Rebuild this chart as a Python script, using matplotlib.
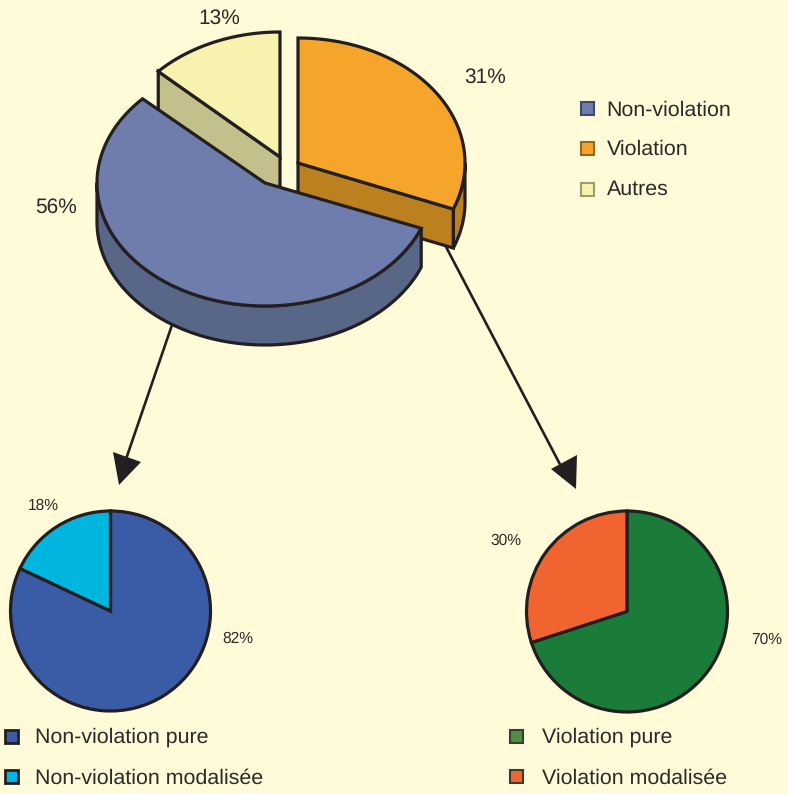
import numpy as np
import matplotlib
matplotlib.use("Agg")
import matplotlib.pyplot as plt
from matplotlib.patches import Polygon, Rectangle

plt.rcParams['font.family'] = ['Liberation Sans', 'DejaVu Sans']
plt.rcParams['text.hinting'] = 'no_hinting'

# main pie, clockwise from 12 o'clock
main_labels = ['Violation', 'Non-violation', 'Autres']
main_values = [31, 56, 13]
# legend order of the main pie
main_legend = ['Non-violation', 'Violation', 'Autres']

left_labels = ['Non-violation pure', 'Non-violation modalisée']
left_values = [82, 18]

right_labels = ['Violation pure', 'Violation modalisée']
right_values = [70, 30]

BG = '#FFFAD8'
INK = '#231F20'
TXT = '#2B2A29'
W, H = 788, 794

fig = plt.figure(figsize=(W / 100, H / 100), dpi=100, facecolor=BG)
ax = fig.add_axes([0, 0, 1, 1])


# image pixels to axes coords (y goes up in the axes)
def Y(py):
    return H - py


def arc(cx, cy, a, b, t0, t1, n=80):
    t = np.radians(np.linspace(t0, t1, n))
    return np.column_stack([cx + a * np.cos(t), Y(cy) + b * np.sin(t)])


def poly(pts, color, z, lw=2.3):
    ax.add_patch(Polygon(pts, closed=True, facecolor=color, edgecolor=INK,
                         linewidth=lw, joinstyle='miter', zorder=z))


# slice angles come from the values
ends = 90 - np.cumsum(main_values) * 3.6
starts = np.r_[90, ends[:-1]]
DEPTH = 39

# yellow slice
t0, t1 = starts[2], ends[2]
cx, cy, a, b = 280, 157, 167, 125
edge = arc(cx, cy, a, b, t0, t0, 1)[0]
centre = np.array([cx, Y(cy)])
poly([edge, centre, centre - [0, DEPTH], edge - [0, DEPTH]], '#C4C08B', 2)
poly(np.vstack([centre, arc(cx, cy, a, b, t0, t1)]), '#F7F2AE', 3)

# orange slice
t0, t1 = starts[0], ends[0]
cx, cy, a, b = 298, 163, 167, 125
edge = arc(cx, cy, a, b, t1, t1, 1)[0]
centre = np.array([cx, Y(cy)])
outer = arc(cx, cy, a, b, 0, t1)
poly(np.vstack([outer, (outer - [0, DEPTH])[::-1]]), '#BC801E', 4)
poly([centre, edge, edge - [0, DEPTH], centre - [0, DEPTH]], '#BC801E', 5)
poly(np.vstack([centre, arc(cx, cy, a, b, t0, t1)]), '#F5A52A', 6)

# arrows go under the blue slice
ax.plot([172, 125], [Y(325), Y(462)], color=INK, lw=1.9, zorder=1)
ax.plot([444, 564], [Y(243), Y(472)], color=INK, lw=1.9, zorder=1)
poly([(119, Y(485)), (113, Y(452)), (141, Y(462))], INK, 1, lw=0)
poly([(576, Y(489)), (551, Y(469)), (577, Y(455))], INK, 1, lw=0)

# blue slice
t0, t1 = starts[1], ends[1]
cx, cy, a, b = 265, 183, 168, 123
centre = np.array([cx, Y(cy)])
outer = arc(cx, cy, a, b, -180, t0)
poly(np.vstack([outer, (outer - [0, DEPTH])[::-1]]), '#586688', 7)
poly(np.vstack([centre, arc(cx, cy, a, b, t0, t1)]), '#6E7DAB', 8)

# lower pies
wp = dict(edgecolor=INK, linewidth=2.3)
ax.pie(left_values, colors=['#3A5BA5', '#00B5DE'], startangle=90, counterclock=False,
       center=(110.5, Y(611)), radius=100, wedgeprops=wp, frame=True)
ax.pie(right_values, colors=['#1A7C38', '#F1642F'], startangle=90, counterclock=False,
       center=(627, Y(611.5)), radius=100.5, wedgeprops=wp, frame=True)

# percent labels, y is the text baseline
for val, x, y in zip(main_values, [485, 56, 219], [83, 213, 24]):
    ax.text(x, Y(y), f'{val}%', fontsize=15, color=TXT, ha='center', va='baseline')
for val, x, y in zip(left_values, [238, 43], [643, 510]):
    ax.text(x, Y(y), f'{val}%', fontsize=11.2, color=TXT, ha='center', va='baseline')
for val, x, y in zip(right_values, [767, 506], [644, 545]):
    ax.text(x, Y(y), f'{val}%', fontsize=11.2, color=TXT, ha='center', va='baseline')


def legend_item(label, x0, ybox, xtxt, ytxt, fill, edge, size=13, lw=1.5):
    ax.add_patch(Rectangle((x0, Y(ybox) - size / 2), size, size, facecolor=fill,
                           edgecolor=edge, linewidth=lw, zorder=9))
    ax.text(xtxt, Y(ytxt), label, fontsize=15.4, color=TXT, ha='left', va='baseline')


legend_item(main_legend[0], 581, 108, 606, 116, '#6E7DAB', '#3F4A6B')
legend_item(main_legend[1], 581, 148, 607, 155, '#F5A52A', '#8F6A20')
legend_item(main_legend[2], 581, 189, 607, 195, '#F7F2AE', '#9E9B72')
legend_item(left_labels[0], 5, 736, 35, 743, '#3A5BA5', INK, lw=2)
legend_item(left_labels[1], 5, 776, 35, 784, '#00B5DE', INK, lw=2)
legend_item(right_labels[0], 510, 736, 542, 743, '#4F9140', '#3A3A36')
legend_item(right_labels[1], 510, 776, 542, 784, '#F1642F', '#3A3A36')

ax.set_xlim(0, W)
ax.set_ylim(0, H)
ax.set_aspect('auto')
ax.axis('off')

fig.savefig('out.png', dpi=100, facecolor=BG)
